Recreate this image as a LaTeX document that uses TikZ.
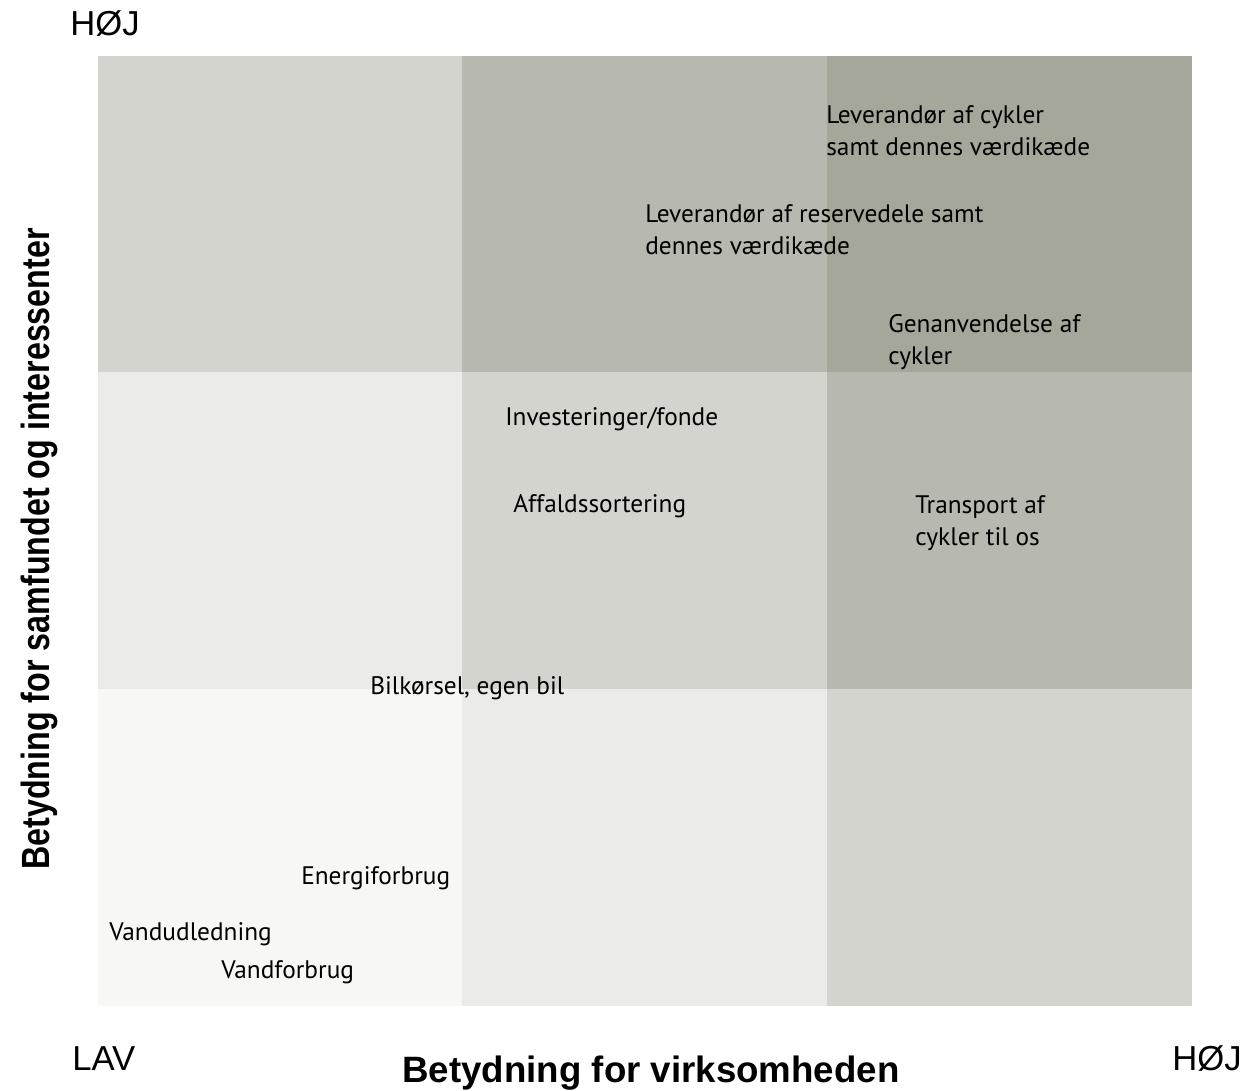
\documentclass[tikz,border=0pt]{standalone}
\usepackage{fontspec}
\setmainfont{PT Sans}
\newfontfamily\axisfont{Liberation Sans}
\newfontfamily\titlefont{Liberation Sans}
\newfontfamily\narrowfont[FakeStretch=0.82]{Liberation Sans}
\usepackage{tikz}

\definecolor{cellA}{HTML}{F7F7F5}
\definecolor{cellB}{HTML}{EBECE8}
\definecolor{cellC}{HTML}{D3D4CE}
\definecolor{cellD}{HTML}{B7B8AF}
\definecolor{cellE}{HTML}{A6A79B}

\tikzset{
  item/.style={anchor=west,inner sep=0pt,align=left,font=\fontsize{19}{24}\selectfont},
  axisend/.style={inner sep=0pt,font=\axisfont\fontsize{26}{28}\selectfont}
}

\begin{document}
\begin{tikzpicture}[x=0.75pt,y=0.75pt,yscale=-1,xscale=1]
\path[use as bounding box] (0,0) rectangle (1247,1091);

%Cells, bottom row
\fill[cellA] (98,689) rectangle (462,1006);
\fill[cellB] (462,689) rectangle (827,1006);
\fill[cellC] (827,689) rectangle (1192,1006);
%Cells, middle row
\fill[cellB] (98,372) rectangle (462,689);
\fill[cellC] (462,372) rectangle (827,689);
\fill[cellD] (827,372) rectangle (1192,689);
%Cells, top row
\fill[cellC] (98,56) rectangle (462,372);
\fill[cellD] (462,56) rectangle (827,372);
\fill[cellE] (827,56) rectangle (1192,372);

% Text Node
\node[item] (levcykler) at (826,131) {Leverandør af cykler\\samt dennes værdikæde};
% Text Node
\node[item] (levdele) at (645,230) {Leverandør af reservedele samt\\dennes værdikæde};
% Text Node
\node[item] (genanv) at (888,342) {Genanvendelse af\\cykler};
% Text Node
\node[item] (invest) at (505,419) {Investeringer/fonde};
% Text Node
\node[item] (affald) at (513,506) {Affaldssortering};
% Text Node
\node[item] (transport) at (915,523) {Transport af\\cykler til os};
% Text Node
\node[item] (bil) at (370,688) {Bilkørsel, egen bil};
% Text Node
\node[item] (energi) at (301,878) {Energiforbrug};
% Text Node
\node[item] (vandud) at (109,934) {Vandudledning};
% Text Node
\node[item] (vandfor) at (221,972) {Vandforbrug};

% Axis ends
\node[axisend,anchor=west] (hojy) at (70,24) {HØJ};
\node[axisend,anchor=west] (lav) at (72,1059) {LAV};
\node[axisend,anchor=east] (hojx) at (1242,1059) {HØJ};

% Axis titles
\node[inner sep=0pt,font=\titlefont\bfseries\fontsize{27.5}{30}\selectfont] (xtitle) at (651,1073) {Betydning for virksomheden};
\node[inner sep=0pt,rotate=90,font=\narrowfont\bfseries\fontsize{29.5}{32}\selectfont] (ytitle) at (39,549) {Betydning for samfundet og interessenter};

\end{tikzpicture}
\end{document}
